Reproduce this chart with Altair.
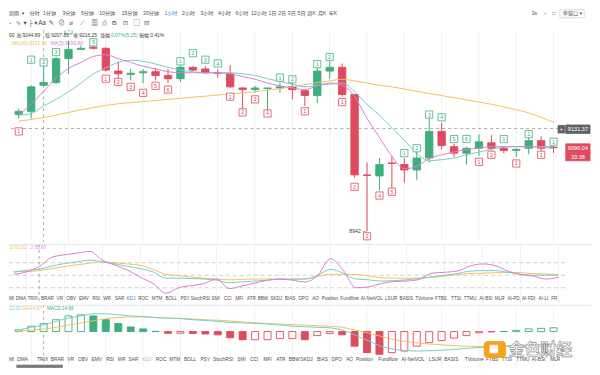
import altair as alt
import pandas as pd

# ---------------- data ----------------
candle_idx = list(range(44))
open_p = [9157, 9163, 9211.00, 9216, 9260, 9277, 9281, 9279, 9237, 9231, 9234, 9236, 9229, 9223, 9244, 9241,
          9234, 9232, 9206, 9203, 9205, 9206, 9208, 9201, 9192, 9237, 9244, 9194, 9046, 9044, 9068, 9065,
          9055, 9077, 9126, 9098, 9086, 9095, 9105, 9095, 9091, 9095, 9109, 9097]
high_p = [9168, 9211, 9244.89, 9263, 9293, 9284, 9283, 9281, 9255, 9241, 9241, 9243, 9241, 9250, 9246, 9246,
          9241, 9248, 9208, 9210, 9206, 9216, 9215, 9203, 9244, 9255, 9251, 9195, 9069, 9077, 9081, 9077,
          9090, 9149, 9142, 9103, 9098, 9121, 9119, 9098, 9095, 9117, 9117, 9100]
low_p = [9150, 9150, 9207.83, 9213, 9232, 9276, 9277, 9236, 9223, 9220, 9215, 9220, 9215, 9217, 9237, 9232,
         9225, 9206, 9164, 9197, 9164, 9197, 9185, 9173, 9178, 9223, 9190, 9041, 8942, 9017, 9020, 9032,
         9037, 9069, 9093, 9079, 9065, 9081, 9091, 9086, 9079, 9084, 9090, 9086]
close_p = [9163, 9208, 9216.25, 9260, 9277, 9279, 9279, 9239, 9232, 9233, 9236, 9229, 9223, 9244, 9239, 9234,
           9233, 9208, 9203, 9206, 9206, 9208, 9203, 9192, 9237, 9244, 9194, 9046, 9045, 9065, 9067, 9055,
           9077, 9126, 9100, 9086, 9095, 9107, 9095, 9091, 9093, 9109, 9095, 9096.04]
td_text = ["1", "1", "2", "3", "4", "", "5", "1", "2", "3", "4", "5", "6", "1", "2", "3", "4", "1", "2", "3", "4",
           "1", "2", "1", "1", "2", "1", "2", "3", "4", "5", "1", "2", "3", "4", "5", "6", "1", "2", "1", "1", "1",
           "1", "1"]
td_price = [9126, 9258, 9253, 9272, 9312, None, 9290, 9223, 9217, 9208, 9197, 9210, 9203, 9255, 9270, 9258,
            9251, 9190, 9161, 9185, 9159, 9225, 9222, 9163, 9250, 9263, 9180, 9024, 8933, 9008, 9015, 9086,
            9095, 9157, 9152, 9112, 9112, 9070, 9083, 9112, 9067, 9121, 9083, 9107]
ma5 = [9157, 9176, 9199.8, 9224, 9242, 9253, 9264, 9267, 9260, 9253, 9246, 9241, 9236, 9234, 9234, 9234,
       9234, 9232, 9227, 9222, 9215, 9210, 9206, 9203, 9210, 9215, 9211, 9190, 9150, 9115, 9080, 9057,
       9062, 9076, 9083, 9088, 9093, 9095, 9098, 9098, 9098, 9098, 9097, 9095]
ma10 = [9156, 9159, 9173, 9185, 9199, 9215, 9232, 9243, 9253, 9257, 9255, 9250, 9244, 9239, 9236, 9234,
        9234, 9234, 9232, 9229, 9223, 9218, 9213, 9208, 9211, 9213, 9215, 9199, 9176, 9156, 9133, 9110,
        9086, 9072, 9074, 9077, 9083, 9088, 9093, 9097, 9098, 9098, 9098, 9098]
ma30 = [9145, 9148, 9151.5, 9156, 9161, 9166, 9170, 9174, 9177, 9179, 9181, 9183, 9185, 9187, 9189, 9191,
        9193, 9195, 9197, 9199, 9202, 9205, 9208, 9212, 9216, 9219, 9222, 9219, 9215, 9211, 9208, 9204,
        9200, 9196, 9192, 9188, 9184, 9180, 9176, 9171, 9166, 9160, 9152, 9143]
kdj_k = [57, 62, 64.24, 72, 78, 82, 86, 82, 77, 71, 66, 58, 43, 43, 42, 41, 38, 32, 34, 36, 38, 41, 41, 41,
         50, 64, 55, 41, 39, 36, 37, 39, 42, 46, 50, 54, 60, 61, 61, 57, 52, 50, 50, 50]
kdj_d = [59, 59, 61.02, 66, 71, 75, 79, 82, 80, 77, 74, 64, 52, 49, 46, 43, 41, 39, 40, 41, 41, 40, 40, 41,
         47, 52, 52, 52, 48, 44, 43, 43, 43, 45, 48, 51, 54, 55, 56, 57, 56, 54, 53, 52]
kdj_j = [52, 58, 70.67, 93, 99, 103, 107, 86, 74, 62, 45, 30, 7, 20, 25, 30, 41, 18, 24, 31, 38, 41, 38, 34,
         50, 90, 62, 20, 22, 30, 35, 36, 40, 55, 57, 60, 72, 77, 73, 60, 52, 48, 41, 45]
macd_dif = [3, 8, 12.0, 19, 25, 29, 33, 33, 31, 29, 28, 26, 25, 24, 22, 20.5, 19, 17, 16, 15, 14, 12, 10, 9,
            8, 7, 3, -6, -16, -26, -32, -35, -36, -35.5, -34.5, -33, -31, -29.5, -28, -27, -25.5, -24.5, -24, -23.5]
macd_dea = [0.5, 2.5, 4.67, 8, 12, 16, 20, 24, 26, 27, 27, 26, 25, 24.5, 23, 22, 21, 19.5, 18, 16.5, 15, 14,
            13, 12, 11, 10, 8, 3, -2, -8, -14, -18, -21, -23, -24.5, -26, -27, -27.5, -27.5, -27.5, -27.5,
            -27.5, -27, -27]
macd_hist = [3.4, 10, 14.66, 22, 29, 31, 29, 22, 15, 8.5, 5, 0.5, -3, -3, -3.5, -4.5, -6, -11.5, -15, -15,
             -15, -13, -13, -15, -7.5, -3.5, -6, -27, -39, -42, -39, -36, -27, -20.5, -16.5, -12, -7.5, -2.3,
             -0.5, 0.3, 2.3, 5, 6, 7]
price_ticks = [9300, 9280, 9260, 9240, 9220, 9200, 9180, 9160, 9140, 9120, 9100, 9080, 9060, 9040, 9020,
               9000, 8980, 8960, 8940]
kdj_ticks = [100, 50, 0]
kdj_dash = [80, 50, 20]
macd_ticks = [40, 20, 0, -20, -40]
grid_idx = [1, 4, 7, 10, 13, 16, 19, 22, 25, 28, 31, 34, 37, 40, 43]
cross_idx = 2
cross_price = 9131.37
low_mark = 8942

# ---------------- style / layout ----------------
GREEN = "#3fae7d"; RED = "#e04a5e"; TEAL = "#74d0c3"; PINK = "#dd7dd4"; ORANGE = "#f2c260"
GRID = "#f0f2f5"; BORDER = "#e2e5e9"; DARK = "#3a3a3a"; TXT = "#4d4d4d"; AXT = "#555555"; BLUE = "#3d7fd9"
FONT = "Liberation Sans, Noto Sans CJK SC, DejaVu Sans, sans-serif"
SX = 584 / 600
SY = 354 / 375
W = 557
H_HEAD, H_MAIN, H_KDJ, H_MACD = 21, 212, 59, 62
XS = alt.Scale(domain=[-0.383, 43.52], nice=False, zero=False)
YS = alt.Scale(domain=[8922.6, 9312.2], nice=False, zero=False)
KS = alt.Scale(domain=[-16, 125], nice=False, zero=False)
MS = alt.Scale(domain=[-65, 49.6], nice=False, zero=False)


def PX(x):
    return round(x * SX, 2)


def PY(y, top):
    return round((y - top) * SY, 2)


def text_layer(rows, top, size=6.0, weight="normal", align="left", stroke=None, opacity=1.0):
    df = pd.DataFrame([{"px": PX(x), "py": PY(y, top), "t": t, "c": c} for (x, y, t, c) in rows])
    kw = dict(align=align, baseline="middle", fontSize=size, font=FONT, fontWeight=weight, opacity=opacity)
    if stroke:
        kw.update(stroke=stroke, strokeWidth=0.7)
    return alt.Chart(df).mark_text(**kw).encode(
        x=alt.X("px:Q", scale=None, axis=None),
        y=alt.Y("py:Q", scale=None, axis=None),
        text="t:N",
        color=alt.Color("c:N", scale=None),
    )


def rect_layer(rows, top, radius=0):
    df = pd.DataFrame([{"x1": PX(a), "x2": PX(b), "y1": PY(c, top), "y2": PY(d, top), "f": f, "s": s}
                       for (a, c, b, d, f, s) in rows])
    return alt.Chart(df).mark_rect(strokeWidth=0.8, cornerRadius=radius).encode(
        x=alt.X("x1:Q", scale=None, axis=None), x2="x2:Q",
        y=alt.Y("y1:Q", scale=None, axis=None), y2="y2:Q",
        fill=alt.Fill("f:N", scale=None), stroke=alt.Stroke("s:N", scale=None),
    )


def vgrid():
    return alt.Chart(pd.DataFrame({"g": grid_idx})).mark_rule(color=GRID, strokeWidth=1).encode(
        x=alt.X("g:Q", scale=XS, axis=None))


def vcross():
    return alt.Chart(pd.DataFrame({"i": [cross_idx]})).mark_rule(
        color="#9a9a9a", strokeWidth=0.8, strokeDash=[3, 3]).encode(x=alt.X("i:Q", scale=XS, axis=None))


def separator():
    return alt.Chart(alt.Data(values=[{}])).mark_rule(color=BORDER, strokeWidth=1).encode(
        x=alt.value(0), x2=alt.value(583), y=alt.value(0.5))


# ---------------- frames ----------------
cdf = pd.DataFrame({"i": candle_idx, "o": open_p, "h": high_p, "l": low_p, "c": close_p})
cdf["cc"] = [GREEN if c >= o else RED for o, c in zip(open_p, close_p)]
tdf = pd.DataFrame({"i": candle_idx, "lt": td_text, "lp": td_price, "h": high_p}).dropna()
tdf["lc"] = [GREEN if p > h else RED for p, h in zip(tdf["lp"], tdf["h"])]

ma_rows = []
for name, vals, col in [("MA30", ma30, ORANGE), ("MA10", ma10, TEAL), ("MA5", ma5, PINK)]:
    for i, v in zip(candle_idx, vals):
        ma_rows.append({"i": i, "v": v, "ma": name, "col": col})
madf = pd.DataFrame(ma_rows)

kdj_rows = []
for name, vals, col in [("D", kdj_d, ORANGE), ("K", kdj_k, TEAL), ("J", kdj_j, PINK)]:
    for i, v in zip(candle_idx, vals):
        kdj_rows.append({"i": i, "v": v, "s": name, "col": col})
kdjdf = pd.DataFrame(kdj_rows)

macd_rows = []
for name, vals, col in [("DEA", macd_dea, ORANGE), ("DIF", macd_dif, TEAL)]:
    for i, v in zip(candle_idx, vals):
        macd_rows.append({"i": i, "v": v, "s": name, "col": col})
macddf = pd.DataFrame(macd_rows)

hist_rows = []
for k, (i, v) in enumerate(zip(candle_idx, macd_hist)):
    rising = k == 0 or v >= macd_hist[k - 1]
    col = GREEN if v >= 0 else RED
    hist_rows.append({"i": i, "v": v, "st": col, "fi": "#ffffff" if rising else col})
histdf = pd.DataFrame(hist_rows)

# ---------------- header ----------------
hdr1 = [(0, "周期"), (13, "▾"), (21, "分时"), (35, "1分钟"), (55, "3分钟"), (74, "5分钟"), (93, "10分钟"),
        (116, "15分钟"), (138, "30分钟"), (160, "1小时"), (178, "2小时"), (197, "3小时"), (215, "4小时"),
        (233, "6小时"), (249, "12小时"), (267, "1日"), (277, "2日"), (287, "3日"), (297, "5日"),
        (307, "周K"), (318, "月K"), (329, "年K"), (538, "3s"), (550, "⁝⁝"), (559, "□"), (570, "单窗口 ▾")]
hdr1_rows = [(x, 5.5, t, BLUE if t == "1小时" else TXT) for x, t in hdr1]
hdr2 = [(0, "-"), (7, "∿"), (15, "▾"), (20, "├"), (26, "▾"), (30, "Aa"), (41, "✎"), (51, "⊘"), (62, "⌀"),
        (73, "⟋"), (85, "▦"), (96, "⎙"), (106, "⧉"), (117, "⊡"), (128, "▢"), (139, "⊟")]
hdr2_rows = [(x, 16, t, TXT) for x, t in hdr2]
header = alt.layer(
    rect_layer([(567, 1.5, 592, 10, "#ffffff", "#cfd3d8")], 0),
    text_layer(hdr1_rows, 0, size=5.1),
    text_layer(hdr2_rows, 0, size=6.3),
).properties(width=W, height=H_HEAD)

# ---------------- main price pane ----------------
ax_main = alt.Axis(orient="right", values=price_ticks, format=".2f", labelFontSize=6.2, labelColor=AXT,
                   labelFont=FONT, ticks=False, domain=True, domainColor=BORDER, grid=True, gridColor=GRID,
                   labelPadding=3, title=None)
wicks = alt.Chart(cdf).mark_rule(strokeWidth=1, clip=True).encode(
    x=alt.X("i:Q", scale=XS, axis=None),
    y=alt.Y("l:Q", scale=YS, axis=ax_main), y2="h:Q",
    color=alt.Color("cc:N", scale=None))
bodies = alt.Chart(cdf).mark_bar(size=7.4, strokeWidth=0.9, clip=True).encode(
    x=alt.X("i:Q", scale=XS, axis=None),
    y=alt.Y("o:Q", scale=YS, axis=None), y2="c:Q",
    fill=alt.Fill("cc:N", scale=None), stroke=alt.Stroke("cc:N", scale=None))
ma_lines = alt.Chart(madf).mark_line(strokeWidth=1, interpolate="monotone", clip=True).encode(
    x=alt.X("i:Q", scale=XS, axis=None),
    y=alt.Y("v:Q", scale=YS, axis=None),
    color=alt.Color("col:N", scale=None), detail="ma:N")
hcross = alt.Chart(pd.DataFrame({"p": [cross_price]})).mark_rule(
    color="#9a9a9a", strokeWidth=0.8, strokeDash=[3, 3]).encode(y=alt.Y("p:Q", scale=YS, axis=None))
td_box = alt.Chart(tdf).mark_square(size=52, filled=True, fill="#ffffff", strokeWidth=0.8, opacity=1,
                                    clip=True).encode(
    x=alt.X("i:Q", scale=XS, axis=None), y=alt.Y("lp:Q", scale=YS, axis=None),
    stroke=alt.Stroke("lc:N", scale=None))
td_txt = alt.Chart(tdf).mark_text(fontSize=5.4, font=FONT, baseline="middle", align="center",
                                  clip=True).encode(
    x=alt.X("i:Q", scale=XS, axis=None), y=alt.Y("lp:Q", scale=YS, axis=None),
    text="lt:N", color=alt.Color("lc:N", scale=None))
low_txt = alt.Chart(pd.DataFrame({"i": [28], "p": [low_mark], "t": [f"{low_mark} ─"]})).mark_text(
    fontSize=5.2, font=FONT, align="right", baseline="middle", dx=-1, color=DARK).encode(
    x=alt.X("i:Q", scale=XS, axis=None), y=alt.Y("p:Q", scale=YS, axis=None), text="t:N")

info_rows = [(0, 28, "00", DARK), (7.6, 28, "高:9244.89", DARK), (37, 28, "低:9207.83", DARK),
             (66, 28, "收:9216.25", DARK), (94, 28, "涨幅", DARK), (105, 28, "0.07%(5.25)", GREEN),
             (134, 28, "振幅:0.41%", DARK)]
ma_txt_rows = [(0, 37, ":", TEAL), (3, 37, "MA(30):9151.50", ORANGE), (43, 37, "MA(5):9199.80", PINK)]
box_rows = [(565, 123, 572, 131, "#5f6368", "#5f6368"), (573, 122.5, 598, 131.5, "#5f6368", "#5f6368"),
            (573, 142.5, 598, 151.5, RED, RED), (573, 151.5, 598, 160.5, RED, RED)]
box_txt = [(568.5, 127, "+", "#ffffff"), (585.5, 127, "9131.37", "#ffffff"),
           (585.5, 147, "9096.04", "#ffffff"), (585.5, 156, "33:38", "#ffffff")]

main = alt.layer(
    vgrid(), vcross(), hcross, wicks, bodies, ma_lines, td_box, td_txt, low_txt,
    text_layer(info_rows, 22, size=4.9),
    text_layer(ma_txt_rows, 22, size=4.9),
    rect_layer(box_rows, 22),
    text_layer(box_txt, 22, size=5.6, align="center"),
).properties(width=W, height=H_MAIN)

# ---------------- KDJ pane ----------------
ax_kdj = alt.Axis(orient="right", values=kdj_ticks, format=".2f", labelFontSize=6.2, labelColor=AXT,
                  labelFont=FONT, ticks=False, domain=True, domainColor=BORDER, grid=True, gridColor=GRID,
                  labelPadding=3, title=None)
kdj_dashes = alt.Chart(pd.DataFrame({"v": kdj_dash})).mark_rule(
    color="#c4c4c4", strokeWidth=0.8, strokeDash=[4, 3]).encode(y=alt.Y("v:Q", scale=KS, axis=ax_kdj))
kdj_lines = alt.Chart(kdjdf).mark_line(strokeWidth=1, interpolate="monotone", clip=True).encode(
    x=alt.X("i:Q", scale=XS, axis=None), y=alt.Y("v:Q", scale=KS, axis=None),
    color=alt.Color("col:N", scale=None), detail="s:N")
tabs1 = [("MI", 0), ("DMA", 7), ("TRIX", 19), ("BRAR", 33), ("VR", 49), ("OBV", 59), ("EMV", 72), ("RSI", 86),
         ("WR", 97), ("SAR", 109), ("KDJ", 121), ("ROC", 133), ("MTM", 147), ("BOLL", 161), ("PSY", 176.5),
         ("StochRSI", 187), ("SMI", 208.5), ("CCI", 221), ("MFI", 233), ("ATR", 245), ("BBW", 256),
         ("SKDJ", 269), ("BIAS", 284), ("DPO", 298), ("AO", 312), ("Position", 322), ("Fundflow", 341),
         ("AI-NetVOL", 362), ("LSUR", 387), ("BASIS", 402), ("TVolume", 418), ("FTBS", 438.5), ("TTSI", 455),
         ("TTMU", 468), ("AI-BSI", 484), ("MLR", 500), ("AI-PD", 513), ("AI-FDI", 528), ("AI-LI", 545),
         ("FR", 558)]
tabs1_rows = [(x, 304, t, BLUE if t == "KDJ" else TXT) for t, x in tabs1]
kdj_lbl = [(1, 250, "D:61.02", ORANGE), (22, 250, "J:70.67", PINK)]
kdj = alt.layer(
    vgrid(), kdj_dashes, vcross(), kdj_lines, separator(),
    text_layer(kdj_lbl, 246, size=4.9),
    text_layer(tabs1_rows, 246, size=4.6),
).properties(width=W, height=H_KDJ)

# ---------------- MACD pane ----------------
ax_macd = alt.Axis(orient="right", values=macd_ticks, format=".2f", labelFontSize=6.2, labelColor=AXT,
                   labelFont=FONT, ticks=False, domain=True, domainColor=BORDER, grid=True, gridColor=GRID,
                   labelPadding=3, title=None)
hist = alt.Chart(histdf).mark_bar(size=7, strokeWidth=0.9, clip=True).encode(
    x=alt.X("i:Q", scale=XS, axis=None),
    y=alt.Y("v:Q", scale=MS, axis=ax_macd), y2=alt.datum(0),
    fill=alt.Fill("fi:N", scale=None), stroke=alt.Stroke("st:N", scale=None))
macd_lines = alt.Chart(macddf).mark_line(strokeWidth=1, interpolate="monotone", clip=True).encode(
    x=alt.X("i:Q", scale=XS, axis=None), y=alt.Y("v:Q", scale=MS, axis=None),
    color=alt.Color("col:N", scale=None), detail="s:N")
tabs2 = [("MI", 0), ("DMA", 8.5), ("TRIX", 29), ("BRAR", 43), ("VR", 60), ("OBV", 71), ("EMV", 85),
         ("RSI", 100), ("WR", 112), ("SAR", 123), ("KDJ", 137), ("ROC", 151), ("MTM", 165), ("BOLL", 180),
         ("PSY", 197), ("StochRSI", 210), ("SMI", 235), ("CCI", 248), ("MFI", 262), ("ATR", 275),
         ("BBW", 288), ("SKDJ", 300), ("BIAS", 317), ("DPO", 332), ("AO", 347), ("Position", 357),
         ("Fundflow", 380), ("AI-NetVOL", 404), ("LSUR", 432), ("BASIS", 448), ("TVolume", 469),
         ("FTBS", 491), ("TTSI", 507), ("TTMU", 522), ("AI-BSI", 538), ("MLR", 557)]
tabs2_rows = [(x, 367, t, "#b8b8b8" if t == "KDJ" else TXT) for t, x in tabs2]
macd_lbl = [(0, 312, "12.00", TEAL), (13.5, 312, "DEA:4.67", ORANGE), (39, 312, "MACD:14.66", GREEN)]
macd = alt.layer(
    vgrid(), vcross(), hist, macd_lines, separator(),
    text_layer(macd_lbl, 308, size=4.7),
    text_layer(tabs2_rows, 308, size=4.8),
    rect_layer([(8, 372, 55, 374.5, "#7a7a7a", "#7a7a7a")], 308),
    rect_layer([(489, 347, 511, 364, "#f5a31a", "#f5a31a")], 308, radius=3),
    rect_layer([(495, 351, 503, 359, "#ffffff", "#ffffff")], 308),
    text_layer([(514, 356.5, "金色财经", "#ffffff")], 308, size=16, weight="bold", stroke="#8a8a8a",
               opacity=0.95),
).properties(width=W, height=H_MACD)

chart = alt.vconcat(header, main, kdj, macd, spacing=0).properties(
    padding=0, background="#ffffff").configure_view(stroke=None)

chart.save("out.html", embed_options={"renderer": "svg", "actions": False})
